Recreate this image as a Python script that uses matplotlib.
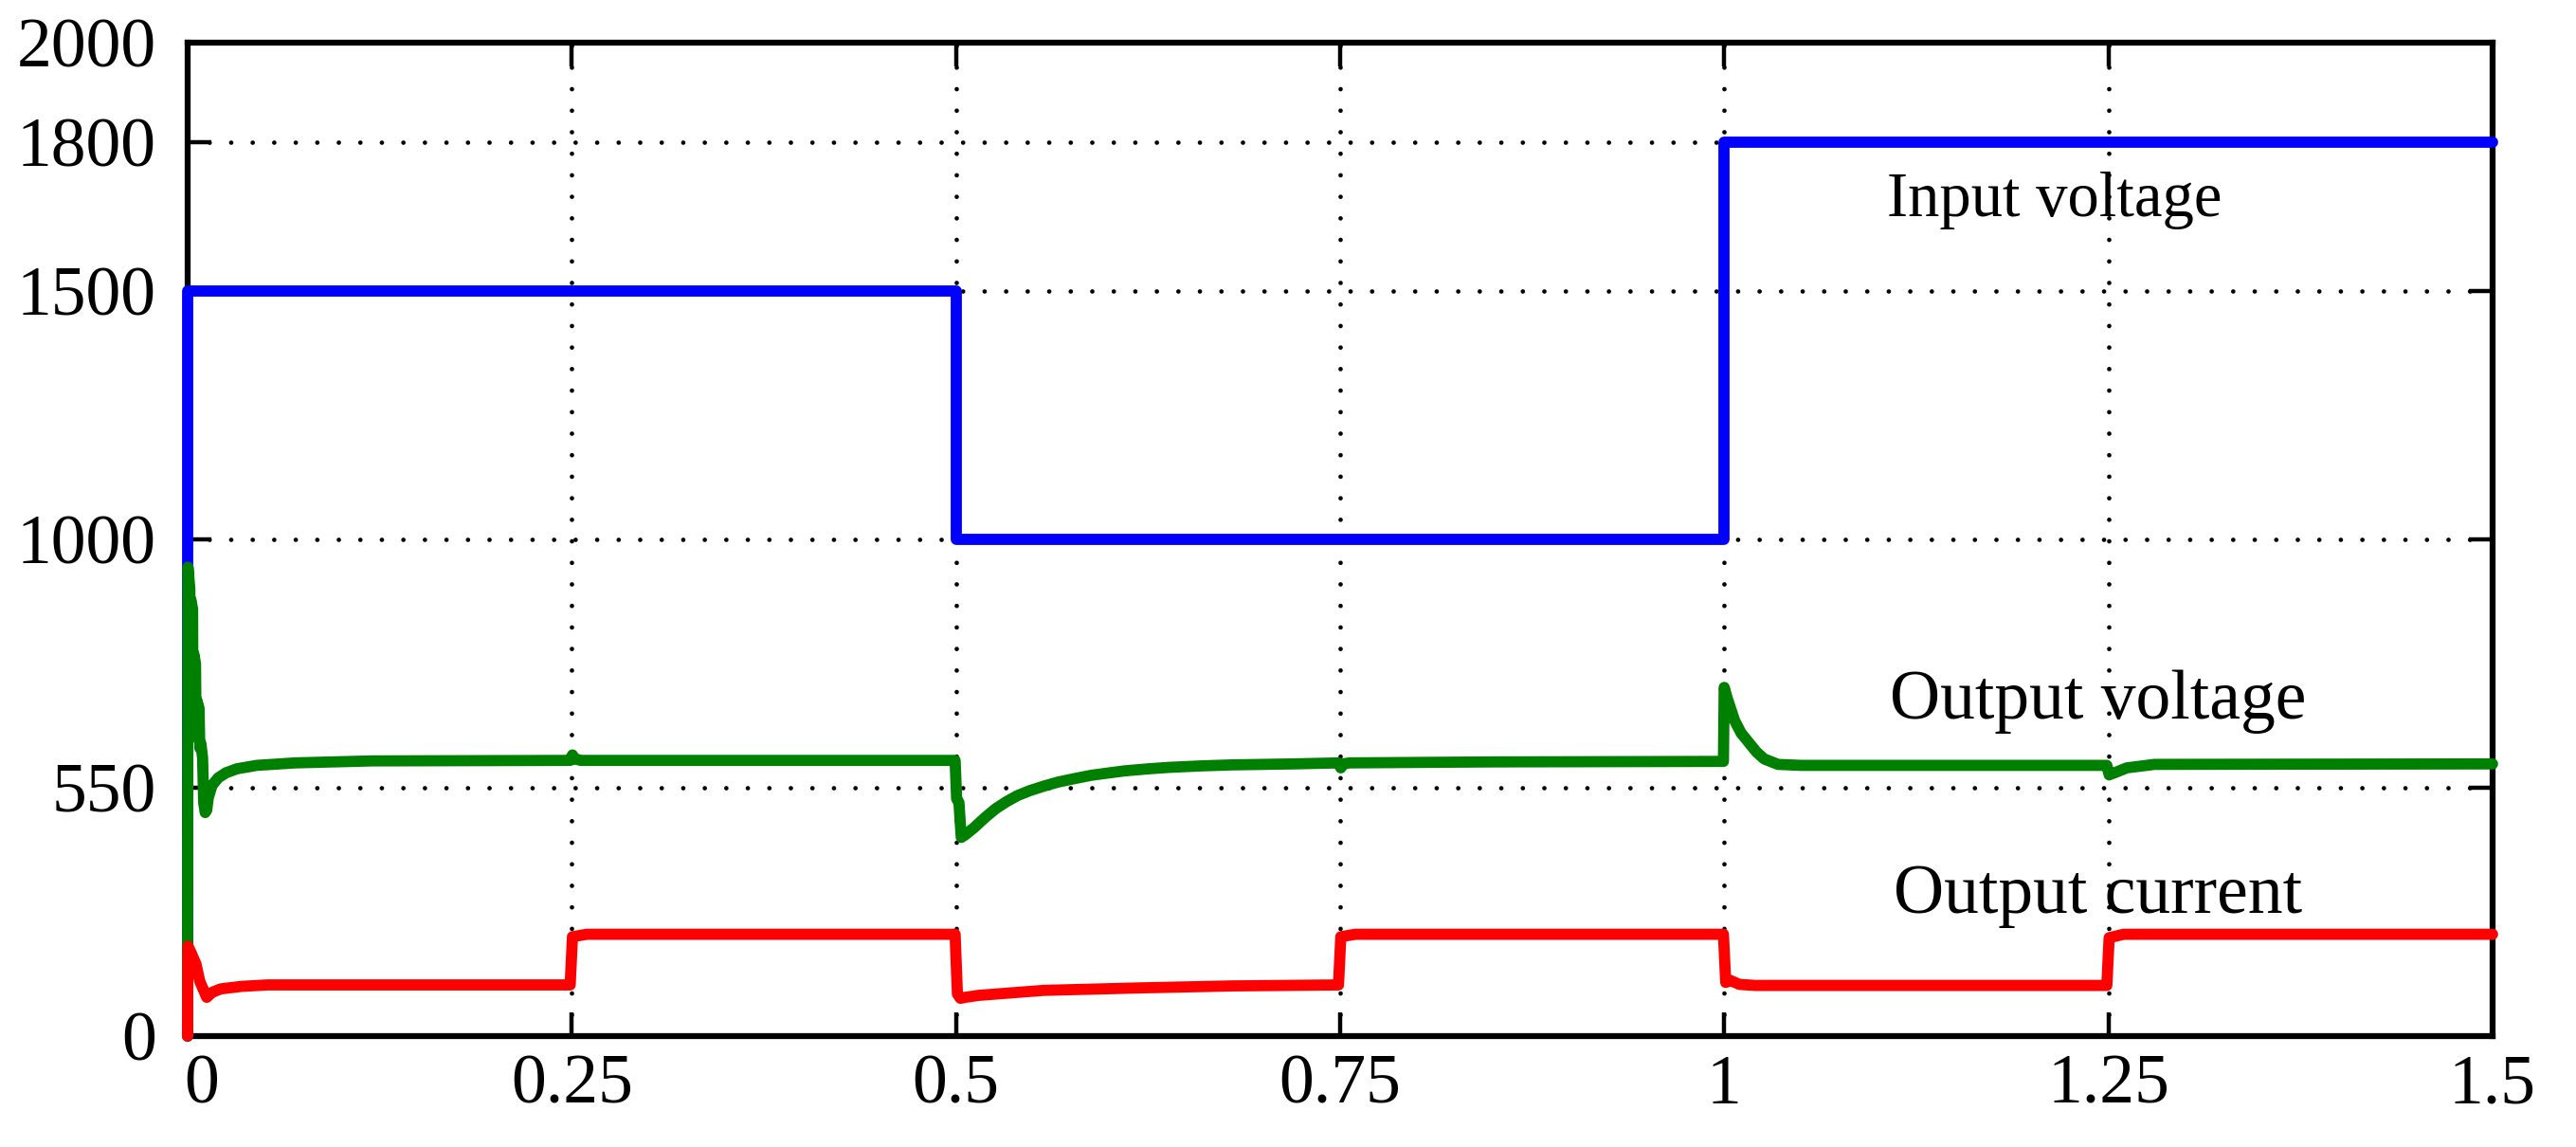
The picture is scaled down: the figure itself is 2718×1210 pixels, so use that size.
import matplotlib
matplotlib.use("Agg")
import matplotlib.pyplot as plt
import matplotlib.transforms as mtransforms

# ---------------- data ----------------
x_ticks = [0, 0.25, 0.5, 0.75, 1, 1.25, 1.5]
x_tick_labels = ["0", "0.25", "0.5", "0.75", "1", "1.25", "1.5"]
y_ticks = [0, 500, 1000, 1500, 1800, 2000]
y_tick_labels = ["0", "550", "1000", "1500", "1800", "2000"]

t_input = [0, 0, 0.5, 0.5, 1.0, 1.0, 1.5]
v_input = [0, 1500, 1500, 1000, 1000, 1800, 1800]

t_vout = [0, 0.0003, 0.0015, 0.0018, 0.0021, 0.0033, 0.0036, 0.0040, 0.0052,
          0.0056, 0.0062, 0.0075, 0.0080, 0.0087, 0.0098, 0.0105, 0.0115,
          0.0125, 0.0135, 0.016, 0.02, 0.025, 0.032, 0.045, 0.07, 0.12,
          0.249, 0.2505, 0.252, 0.256, 0.4, 0.4995,
          0.5005, 0.502, 0.5035, 0.506, 0.512, 0.519, 0.526, 0.533, 0.54,
          0.548, 0.557, 0.566, 0.575, 0.588, 0.60, 0.61, 0.625, 0.639, 0.66,
          0.68, 0.72, 0.749, 0.7505, 0.752, 0.756, 0.85,
          0.9995, 1.0, 1.002, 1.0068, 1.011, 1.016, 1.021, 1.026, 1.035,
          1.05, 1.1, 1.249, 1.2505, 1.254, 1.262, 1.28, 1.5]
v_vout = [0, 944, 900, 600, 879, 860, 620, 770, 750,
          610, 675, 660, 580, 589, 560, 470, 450,
          455, 480, 505, 520, 530, 538, 545, 550, 554,
          555, 566, 558, 555, 555, 555,
          478, 470, 400, 405, 420, 440, 458, 472, 484,
          494, 503, 511, 517, 525, 530, 534, 538, 541, 544,
          546, 548, 550, 540, 548, 550, 552,
          553, 702, 680, 635, 610, 591, 572, 558, 547,
          545, 545, 545, 526, 530, 540, 547, 548]

t_iout = [0, 0.0003, 0.002, 0.0055, 0.008, 0.0125, 0.016, 0.0216, 0.035,
          0.052, 0.249, 0.2505, 0.26, 0.4995, 0.501, 0.503, 0.506, 0.515,
          0.557, 0.62, 0.68, 0.749, 0.7505, 0.76, 0.9995, 1.001, 1.004,
          1.01, 1.02, 1.249, 1.2505, 1.26, 1.5]
v_iout = [0, 181, 170, 145, 110, 78, 88, 95, 100,
          103, 103, 200, 205, 205, 85, 76, 78, 82,
          92, 97, 101, 103, 200, 205, 205, 108, 112,
          104, 102, 102, 198, 205, 205]

labels = ["Input voltage", "Output voltage", "Output current"]
label_pos = [(1.215, 1682), (1.243, 673), (1.243, 282)]
label_sizes = [48, 53, 53]

# ---------------- style ----------------
plt.rcParams["font.family"] = ["Liberation Serif", "DejaVu Serif"]
plt.rcParams["lines.dash_capstyle"] = "round"

fig = plt.figure(figsize=(27.18, 12.10), dpi=100)
ax = fig.add_axes([0.0728, 0.0967, 0.9676 - 0.0728, 0.9628 - 0.0967])

lw = 8.5
ax.plot(t_input, v_input, color="#0000FF", lw=lw, clip_on=False,
        solid_capstyle="round", solid_joinstyle="round", zorder=3)
ax.plot(t_vout, v_vout, color="#008000", lw=lw, clip_on=False,
        solid_capstyle="round", solid_joinstyle="round", zorder=4)
ax.plot(t_iout, v_iout, color="#FF0000", lw=lw, clip_on=False,
        solid_capstyle="round", solid_joinstyle="round", zorder=5)

for txt, (tx, ty), fs in zip(labels, label_pos, label_sizes):
    ax.text(tx, ty, txt, ha="center", va="center", fontsize=fs, zorder=6)

ax.set_xlim(0, 1.5)
ax.set_ylim(0, 2000)
ax.set_xticks(x_ticks)
ax.set_xticklabels(x_tick_labels)
ax.set_yticks(y_ticks)
ax.set_yticklabels(y_tick_labels)

ax.grid(True, color="black", lw=3.4, linestyle=(0, (0.01, 4.8)), zorder=1)
ax.set_axisbelow(True)

ax.tick_params(axis="both", which="major", direction="in", length=18,
               width=3.2, labelsize=53, top=True, right=True, color="black")
ax.tick_params(axis="x", pad=14)
ax.tick_params(axis="y", pad=24)
for sp in ax.spines.values():
    sp.set_linewidth(4.5)
    sp.set_color("black")

# the "0" under the x axis sits slightly right of the spine in the reference
first = ax.get_xticklabels()[0]
first.set_transform(first.get_transform() +
                    mtransforms.ScaledTranslation(0.15, 0, fig.dpi_scale_trans))

fig.savefig("out.png", dpi=100, facecolor="white")
